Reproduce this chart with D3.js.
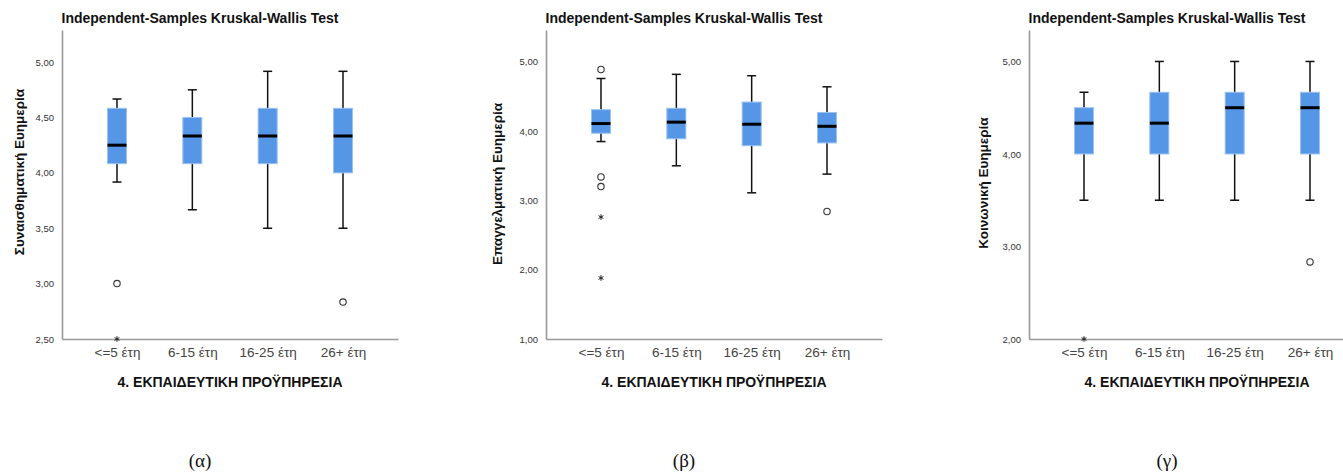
<!DOCTYPE html>
<html>
<head>
<meta charset="utf-8">
<script src="https://cdn.jsdelivr.net/npm/d3@7"></script>
<style>
  body { margin: 0; background: #fff; }
  svg { display: block; }
</style>
</head>
<body>
<svg width="1343" height="472"></svg>
<script>
// data
const categories = ['<=5 έτη', '6-15 έτη', '16-25 έτη', '26+ έτη'];
const chartTitle = 'Independent-Samples Kruskal-Wallis Test';
const xTitle = '4. ΕΚΠΑΙΔΕΥΤΙΚΗ ΠΡΟΫΠΗΡΕΣΙΑ';
const yTitles = ['Συναισθηματική Ευημερία', 'Επαγγελματική Ευημερία', 'Κοινωνική Ευημερία'];
const captions = ['(α)', '(β)', '(γ)'];

const emoTicks = [2.5, 3, 3.5, 4, 4.5, 5];
const emoMin = [3.917, 3.667, 3.5, 3.5];
const emoQ1 = [4.083, 4.083, 4.083, 4.0];
const emoMed = [4.25, 4.333, 4.333, 4.333];
const emoQ3 = [4.583, 4.5, 4.583, 4.583];
const emoMax = [4.667, 4.75, 4.917, 4.917];
const emoOutCat = [0, 0, 3];
const emoOutVal = [3.0, 2.5, 2.833];
const emoOutType = ['o', '*', 'o'];

const profTicks = [1, 2, 3, 4, 5];
const profMin = [3.85, 3.5, 3.11, 3.38];
const profQ1 = [3.97, 3.89, 3.79, 3.83];
const profMed = [4.11, 4.13, 4.1, 4.07];
const profQ3 = [4.31, 4.33, 4.42, 4.27];
const profMax = [4.76, 4.82, 4.8, 4.64];
const profOutCat = [0, 0, 0, 0, 0, 3];
const profOutVal = [4.89, 3.34, 3.2, 2.76, 1.88, 2.84];
const profOutType = ['o', 'o', 'o', '*', '*', 'o'];

const socTicks = [2, 3, 4, 5];
const socMin = [3.5, 3.5, 3.5, 3.5];
const socQ1 = [4, 4, 4, 4];
const socMed = [4.333, 4.333, 4.5, 4.5];
const socQ3 = [4.5, 4.667, 4.667, 4.667];
const socMax = [4.667, 5, 5, 5];
const socOutCat = [0, 3];
const socOutVal = [2.0, 2.833];
const socOutType = ['*', 'o'];

const panels = [
  {ox: 0, domain: [2.5, 5.29], ticks: emoTicks, min: emoMin, q1: emoQ1, med: emoMed, q3: emoQ3, max: emoMax,
   outCat: emoOutCat, outVal: emoOutVal, outType: emoOutType, yTitleX: 24, yTitleY: 172},
  {ox: 484, domain: [1, 5.46], ticks: profTicks, min: profMin, q1: profQ1, med: profMed, q3: profQ3, max: profMax,
   outCat: profOutCat, outVal: profOutVal, outType: profOutType, yTitleX: 18, yTitleY: 184},
  {ox: 967, domain: [2, 5.34], ticks: socTicks, min: socMin, q1: socQ1, med: socMed, q3: socQ3, max: socMax,
   outCat: socOutCat, outVal: socOutVal, outType: socOutType, yTitleX: 21, yTitleY: 183}
];

const margin = {left: 62, top: 30, bottom: 339, right: 398};
const boxW = 19;
const capW = 9;
const svg = d3.select('svg');
const commaFmt = d => d3.format('.2f')(d).replace('.', ',');
const starSymbol = d3.symbolAsterisk || d3.symbolCross;

panels.forEach((p, pi) => {
  const g = svg.append('g').attr('transform', `translate(${p.ox},0)`);

  const x = d3.scalePoint()
    .domain(categories)
    .range([margin.left, margin.right])
    .padding(0.73);
  const y = d3.scaleLinear()
    .domain(p.domain)
    .range([margin.bottom, margin.top]);

  // title
  g.append('text')
    .attr('x', 200)
    .attr('y', 23)
    .attr('text-anchor', 'middle')
    .style('font', 'bold 14px "Liberation Sans", Arial, sans-serif')
    .style('fill', '#111')
    .text(chartTitle);

  // axes
  const yAxis = g.append('g')
    .attr('transform', `translate(${margin.left},0)`)
    .call(d3.axisLeft(y).tickValues(p.ticks).tickFormat(commaFmt).tickSize(0).tickPadding(8));
  yAxis.selectAll('text')
    .style('font', '9.5px "Liberation Sans", Arial, sans-serif')
    .style('fill', '#333');

  const xAxis = g.append('g')
    .attr('transform', `translate(0,${margin.bottom})`)
    .call(d3.axisBottom(x).tickSize(0).tickPadding(8));
  xAxis.selectAll('text')
    .style('font', '13.5px "Liberation Sans", Arial, sans-serif')
    .style('fill', '#444');

  g.selectAll('.domain')
    .attr('stroke', '#999')
    .attr('stroke-width', 1.6);

  // axis titles
  g.append('text')
    .attr('transform', `translate(${p.yTitleX},${p.yTitleY}) rotate(-90)`)
    .attr('text-anchor', 'middle')
    .style('font', 'bold 13.5px "Liberation Sans", Arial, sans-serif')
    .style('fill', '#111')
    .text(yTitles[pi]);

  g.append('text')
    .attr('x', 230)
    .attr('y', 387)
    .attr('text-anchor', 'middle')
    .style('font', 'bold 14px "Liberation Sans", Arial, sans-serif')
    .style('fill', '#111')
    .text(xTitle);

  // whiskers
  const boxes = g.selectAll('.box')
    .data(categories)
    .enter()
    .append('g')
    .attr('class', 'box');

  boxes.append('line')
    .attr('x1', d => x(d)).attr('x2', d => x(d))
    .attr('y1', (d, i) => y(p.min[i])).attr('y2', (d, i) => y(p.max[i]))
    .attr('stroke', '#111').attr('stroke-width', 1.5);
  boxes.append('line')
    .attr('x1', d => x(d) - capW / 2).attr('x2', d => x(d) + capW / 2)
    .attr('y1', (d, i) => y(p.min[i])).attr('y2', (d, i) => y(p.min[i]))
    .attr('stroke', '#111').attr('stroke-width', 1.5);
  boxes.append('line')
    .attr('x1', d => x(d) - capW / 2).attr('x2', d => x(d) + capW / 2)
    .attr('y1', (d, i) => y(p.max[i])).attr('y2', (d, i) => y(p.max[i]))
    .attr('stroke', '#111').attr('stroke-width', 1.5);

  boxes.append('rect')
    .attr('x', d => x(d) - boxW / 2)
    .attr('width', boxW)
    .attr('y', (d, i) => y(p.q3[i]))
    .attr('height', (d, i) => y(p.q1[i]) - y(p.q3[i]))
    .attr('fill', '#5597e6')
    .attr('stroke', '#9cc2f0')
    .attr('stroke-width', 1);

  boxes.append('line')
    .attr('x1', d => x(d) - boxW / 2).attr('x2', d => x(d) + boxW / 2)
    .attr('y1', (d, i) => y(p.med[i])).attr('y2', (d, i) => y(p.med[i]))
    .attr('stroke', '#000').attr('stroke-width', 3);

  // outliers
  const outIdx = d3.range(p.outVal.length);
  g.selectAll('.circ')
    .data(outIdx.filter(i => p.outType[i] === 'o'))
    .enter()
    .append('circle')
    .attr('cx', i => x(categories[p.outCat[i]]))
    .attr('cy', i => y(p.outVal[i]))
    .attr('r', 3.2)
    .attr('fill', 'none')
    .attr('stroke', '#333')
    .attr('stroke-width', 1.1);
  g.selectAll('.star')
    .data(outIdx.filter(i => p.outType[i] === '*'))
    .enter()
    .append('path')
    .attr('transform', i => `translate(${x(categories[p.outCat[i]])},${y(p.outVal[i])})`)
    .attr('d', d3.symbol().type(starSymbol).size(22))
    .attr('fill', '#222')
    .attr('stroke', '#222')
    .attr('stroke-width', 1);

  // caption below
  g.append('text')
    .attr('x', 200)
    .attr('y', 467)
    .attr('text-anchor', 'middle')
    .style('font', '19px "Liberation Serif", "Times New Roman", serif')
    .style('fill', '#111')
    .text(captions[pi]);
});
</script>
</body>
</html>
